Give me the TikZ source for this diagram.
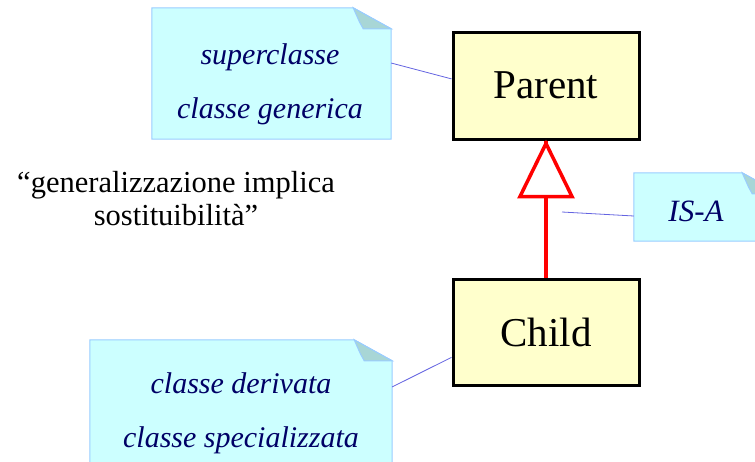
\documentclass[tikz,border=0pt]{standalone}
\usepackage{fontspec}
\setmainfont{Liberation Serif}
\usepackage{xcolor}
\usepackage{tikz}
\usetikzlibrary{positioning, arrows.meta}

\definecolor{notefill}{RGB}{204,255,255}
\definecolor{noteline}{RGB}{153,204,255}
\definecolor{foldfill}{RGB}{168,214,214}
\definecolor{notetext}{RGB}{0,0,102}
\definecolor{classfill}{RGB}{255,255,204}
\definecolor{linkline}{RGB}{100,100,225}

% note outline with folded corner
\newcommand\notefold[1]{%
	\filldraw[fill=notefill, draw=noteline, line width=1pt]
		(#1.north west) -- ([xshift=-38pt]#1.north east) -- ([yshift=-21pt]#1.north east)
		-- (#1.south east) -- (#1.south west) -- cycle;
	\filldraw[fill=foldfill, draw=noteline, line width=1pt]
		([xshift=-38pt]#1.north east) -- ([yshift=-21pt]#1.north east)
		-- ([xshift=-28pt,yshift=-21pt]#1.north east)
		.. controls ([xshift=-31pt,yshift=-16pt]#1.north east) .. cycle;
}

\begin{document}
\begin{tikzpicture}[x=1pt, y=-1pt]
	
	% Styles
	\tikzset{
		classbox/.style={
			rectangle, draw=black, line width=3pt, fill=classfill,
			minimum width=186pt, minimum height=107pt, inner sep=0pt,
			font=\fontsize{41}{45}\selectfont
		},
		notebox/.style={
			rectangle, draw=none, inner sep=0pt
		},
		notelabel/.style={
			align=center, inner sep=0pt, text=notetext,
			font=\fontsize{30}{54}\selectfont\itshape
		},
		remark/.style={
			align=center, inner sep=0pt,
			font=\fontsize{30.5}{33}\selectfont
		},
		link/.style={draw=linkline, line width=0.8pt},
		inherit/.style={draw=red, line width=3.5pt},
		hollowtip/.style={draw=red, fill=white, line width=3.5pt, line join=miter}
	}
	
	\useasboundingbox (0,0) rectangle (755,461);
	\clip (0,0) rectangle (755,461);
	
	% Classes
	\node (parent) [classbox] at (546,85.5) {Parent};
	\node (child) [classbox, minimum height=106pt] at (546,332) {Child};
	
	% Generalization
	\draw[inherit] (child.north) -- (parent.south);
	\filldraw[hollowtip] ([yshift=-3pt]parent.south) -- ++(-26,53) -- ++(52,0) -- cycle;
	
	% Notes
	\node (supnote) [notebox, minimum width=239pt, minimum height=131pt] at (271.5,73.5) {};
	\notefold{supnote}
	\node (suptext) [notelabel] at (270,84.5) {superclasse\\classe generica};
	
	\node (subnote) [notebox, minimum width=302pt, minimum height=131pt] at (241,405.5) {};
	\notefold{subnote}
	\node (subtext) [notelabel] at (241,413.5) {classe derivata\\classe specializzata};
	
	\node (isanote) [notebox, minimum width=146pt, minimum height=68pt] at (707,207) {};
	\notefold{isanote}
	\node (isatext) [notelabel, font=\fontsize{31}{54}\selectfont\itshape] at (696,211) {IS-A};
	
	% Links
	\coordinate (isapt) at (562,212);
	\draw[link] (supnote.5.5) -- (parent.176);
	\draw[link] (subnote.7) -- (child.195);
	\draw[link] (isanote.187) -- (isapt);
	
	% Remark
	\node (remark) [remark] at (176,198.6) {“generalizzazione implica\\sostituibilità”};
	
\end{tikzpicture}
\end{document}
